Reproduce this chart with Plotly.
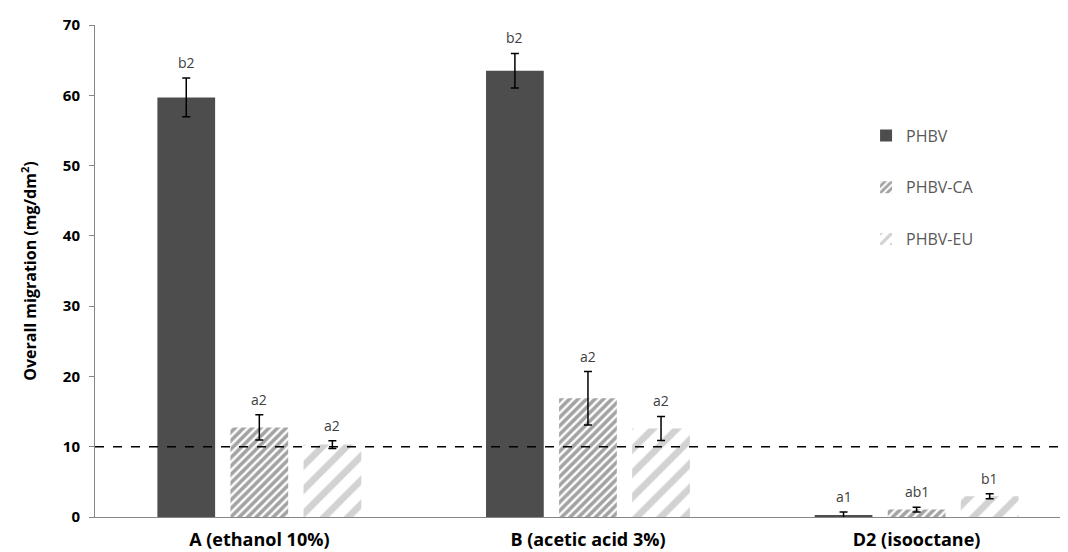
import plotly.graph_objects as go

categories = ["A (ethanol 10%)", "B (acetic acid 3%)", "D2 (isooctane)"]
series_names = ["PHBV", "PHBV-CA", "PHBV-EU"]
phbv = [59.7, 63.5, 0.3]
phbv_err = [2.75, 2.45, 0.4]
phbv_ca = [12.75, 16.9, 1.05]
phbv_ca_err = [1.8, 3.8, 0.35]
phbv_eu = [10.3, 12.6, 2.95]
phbv_eu_err = [0.55, 1.7, 0.35]
labels_phbv = ["b2", "b2", "a1"]
labels_ca = ["a2", "a2", "ab1"]
labels_eu = ["a2", "a2", "b1"]
limit_value = 10
y_ticks = [0, 10, 20, 30, 40, 50, 60, 70]

values = [phbv, phbv_ca, phbv_eu]
errors = [phbv_err, phbv_ca_err, phbv_eu_err]
letters = [labels_phbv, labels_ca, labels_eu]

styles = [
    dict(color="#4d4d4d"),
    dict(color="white", pattern=dict(shape="/", fgcolor="#474747", bgcolor="white",
                                     size=6, solidity=0.6)),
    dict(color="white", pattern=dict(shape="/", fgcolor="#a6a6a6", bgcolor="white",
                                     size=17, solidity=0.4)),
]

BARGAP = 0.333
fig = go.Figure()
for i, name in enumerate(series_names):
    fig.add_trace(go.Bar(
        x=categories, y=values[i], name=name,
        marker=dict(line=dict(width=0), **styles[i]),
        legendgroup=name,
        error_y=dict(type="data", array=errors[i], visible=True,
                     color="black", thickness=1.5, width=4),
    ))

slot = (1 - BARGAP) / len(series_names)
annotations = []
for i in range(len(series_names)):
    for ci in range(len(categories)):
        annotations.append(dict(
            x=ci + (i - 1) * slot, y=values[i][ci] + errors[i][ci],
            xref="x", yref="y", text=letters[i][ci], showarrow=False,
            yanchor="bottom", yshift=4,
            font=dict(family="Open Sans", size=14, color="#404040"),
        ))

fig.add_shape(type="line", xref="paper", yref="y", x0=0, x1=1,
              y0=limit_value, y1=limit_value,
              line=dict(color="black", width=1.5, dash="dash"))

fig.update_layout(
    width=1068, height=552,
    margin=dict(l=87, r=0, t=17, b=43),
    paper_bgcolor="white", plot_bgcolor="white",
    barmode="group", bargap=BARGAP, bargroupgap=0.21,
    font=dict(family="Open Sans", color="black"),
    annotations=annotations,
    legend=dict(x=0.786, y=0.81, xanchor="left", yanchor="top",
                font=dict(family="Open Sans", size=16, color="#595959"),
                tracegroupgap=28, bgcolor="rgba(0,0,0,0)"),
    showlegend=True,
)
fig.update_xaxes(
    range=[-0.5, 2.485], showline=True, linecolor="#868686", linewidth=1,
    ticks="", ticklabelstandoff=6,
    tickfont=dict(family="Open Sans", size=18, color="black", weight="bold"),
    showgrid=False, zeroline=False,
)
fig.update_yaxes(
    range=[0, 70], tickvals=y_ticks, showline=True, linecolor="#868686", linewidth=1,
    ticks="outside", ticklen=5, tickcolor="#868686", showgrid=False, zeroline=False,
    ticklabelstandoff=6,
    tickfont=dict(family="Open Sans", size=15, color="black", weight="bold"),
    title=dict(text="Overall migration (mg/dm<sup>2</sup>)", standoff=22,
               font=dict(family="Open Sans", size=16, color="black", weight="bold")),
)

fig.write_html("out.html")
